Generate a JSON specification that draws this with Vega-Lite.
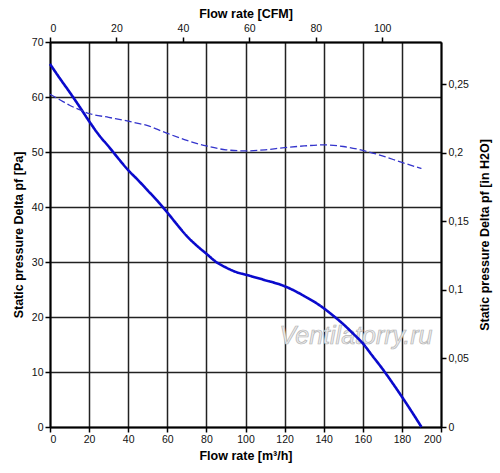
{
  "$schema": "https://vega.github.io/schema/vega-lite/v6.json",
  "width": 391,
  "height": 385,
  "autosize": {"type": "none"},
  "padding": {"left": 50, "top": 42, "right": 59, "bottom": 46},
  "datasets": {
    "curves": [
      {"flow": 0, "pa": 66.0, "series": "solid"},
      {"flow": 5, "pa": 63.4, "series": "solid"},
      {"flow": 10, "pa": 60.9, "series": "solid"},
      {"flow": 15, "pa": 58.3, "series": "solid"},
      {"flow": 20, "pa": 55.6, "series": "solid"},
      {"flow": 25, "pa": 53.1, "series": "solid"},
      {"flow": 30, "pa": 51.0, "series": "solid"},
      {"flow": 35, "pa": 48.8, "series": "solid"},
      {"flow": 40, "pa": 46.7, "series": "solid"},
      {"flow": 45, "pa": 44.9, "series": "solid"},
      {"flow": 50, "pa": 43.0, "series": "solid"},
      {"flow": 55, "pa": 41.1, "series": "solid"},
      {"flow": 60, "pa": 39.0, "series": "solid"},
      {"flow": 65, "pa": 36.8, "series": "solid"},
      {"flow": 70, "pa": 34.7, "series": "solid"},
      {"flow": 75, "pa": 33.0, "series": "solid"},
      {"flow": 80, "pa": 31.5, "series": "solid"},
      {"flow": 85, "pa": 30.0, "series": "solid"},
      {"flow": 90, "pa": 29.0, "series": "solid"},
      {"flow": 95, "pa": 28.2, "series": "solid"},
      {"flow": 100, "pa": 27.7, "series": "solid"},
      {"flow": 110, "pa": 26.7, "series": "solid"},
      {"flow": 120, "pa": 25.6, "series": "solid"},
      {"flow": 126, "pa": 24.6, "series": "solid"},
      {"flow": 130, "pa": 23.8, "series": "solid"},
      {"flow": 135, "pa": 22.8, "series": "solid"},
      {"flow": 140, "pa": 21.6, "series": "solid"},
      {"flow": 145, "pa": 20.2, "series": "solid"},
      {"flow": 150, "pa": 18.7, "series": "solid"},
      {"flow": 155, "pa": 17.0, "series": "solid"},
      {"flow": 160, "pa": 15.2, "series": "solid"},
      {"flow": 165, "pa": 12.9, "series": "solid"},
      {"flow": 170, "pa": 10.6, "series": "solid"},
      {"flow": 175, "pa": 8.1, "series": "solid"},
      {"flow": 180, "pa": 5.5, "series": "solid"},
      {"flow": 185, "pa": 2.8, "series": "solid"},
      {"flow": 190, "pa": 0.0, "series": "solid"},
      {"flow": 0, "pa": 60.5, "series": "dashed"},
      {"flow": 5, "pa": 59.5, "series": "dashed"},
      {"flow": 10, "pa": 58.5, "series": "dashed"},
      {"flow": 15, "pa": 57.7, "series": "dashed"},
      {"flow": 20, "pa": 57.0, "series": "dashed"},
      {"flow": 30, "pa": 56.3, "series": "dashed"},
      {"flow": 40, "pa": 55.6, "series": "dashed"},
      {"flow": 45, "pa": 55.2, "series": "dashed"},
      {"flow": 50, "pa": 54.8, "series": "dashed"},
      {"flow": 55, "pa": 54.1, "series": "dashed"},
      {"flow": 60, "pa": 53.4, "series": "dashed"},
      {"flow": 70, "pa": 52.1, "series": "dashed"},
      {"flow": 80, "pa": 51.1, "series": "dashed"},
      {"flow": 90, "pa": 50.4, "series": "dashed"},
      {"flow": 100, "pa": 50.2, "series": "dashed"},
      {"flow": 110, "pa": 50.4, "series": "dashed"},
      {"flow": 120, "pa": 50.8, "series": "dashed"},
      {"flow": 130, "pa": 51.1, "series": "dashed"},
      {"flow": 140, "pa": 51.3, "series": "dashed"},
      {"flow": 150, "pa": 51.0, "series": "dashed"},
      {"flow": 160, "pa": 50.3, "series": "dashed"},
      {"flow": 170, "pa": 49.3, "series": "dashed"},
      {"flow": 180, "pa": 48.1, "series": "dashed"},
      {"flow": 190, "pa": 47.0, "series": "dashed"}
    ],
    "cfm": [{"cfm": 0}, {"cfm": 117.7}],
    "inh2o": [{"inh2o": 0}, {"inh2o": 0.281}],
    "watermark": [{"flow": 156.5, "pa": 16.6, "label": "Ventilatorry.ru"}]
  },
  "layer": [
    {
      "data": {"name": "watermark"},
      "mark": {
        "type": "text",
        "font": "Liberation Sans",
        "fontSize": 25,
        "fontStyle": "italic",
        "fill": "#ececec",
        "stroke": "#b4b4b4",
        "strokeWidth": 0.7,
        "align": "center",
        "baseline": "middle"
      },
      "encoding": {
        "x": {"field": "flow", "type": "quantitative", "scale": {"domain": [0, 200], "nice": false}, "axis": null},
        "y": {"field": "pa", "type": "quantitative", "scale": {"domain": [0, 70], "nice": false}, "axis": null},
        "text": {"field": "label"}
      }
    },
    {
      "data": {"name": "curves"},
      "mark": {"type": "line", "interpolate": "monotone"},
      "encoding": {
        "x": {
          "field": "flow",
          "type": "quantitative",
          "scale": {"domain": [0, 200], "nice": false},
          "axis": {
            "orient": "bottom",
            "title": "Flow rate [m³/h]",
            "values": [0, 20, 40, 60, 80, 100, 120, 140, 160, 180, 200],
            "grid": true,
            "titlePadding": 5
          }
        },
        "y": {
          "field": "pa",
          "type": "quantitative",
          "scale": {"domain": [0, 70], "nice": false},
          "axis": {
            "orient": "left",
            "title": "Static pressure Delta pf [Pa]",
            "values": [0, 10, 20, 30, 40, 50, 60, 70],
            "grid": true,
            "labelPadding": 2,
            "titlePadding": 6
          }
        },
        "detail": {"field": "series"},
        "color": {
          "field": "series",
          "type": "nominal",
          "scale": {"domain": ["solid", "dashed"], "range": ["#0a0acc", "#3434cc"]},
          "legend": null
        },
        "strokeWidth": {
          "field": "series",
          "type": "nominal",
          "scale": {"domain": ["solid", "dashed"], "range": [2.6, 1.3]},
          "legend": null
        },
        "strokeDash": {
          "field": "series",
          "type": "nominal",
          "scale": {"domain": ["solid", "dashed"], "range": [[1, 0], [7, 3]]},
          "legend": null
        }
      }
    },
    {
      "data": {"name": "cfm"},
      "mark": {"type": "rule", "opacity": 0},
      "encoding": {
        "x": {
          "field": "cfm",
          "type": "quantitative",
          "scale": {"domain": [0, 117.7], "nice": false},
          "axis": {
            "orient": "top",
            "title": "Flow rate [CFM]",
            "values": [0, 20, 40, 60, 80, 100],
            "grid": false,
            "labelPadding": 4,
            "titlePadding": 3
          }
        }
      }
    },
    {
      "data": {"name": "inh2o"},
      "mark": {"type": "rule", "opacity": 0},
      "encoding": {
        "y": {
          "field": "inh2o",
          "type": "quantitative",
          "scale": {"domain": [0, 0.281], "nice": false},
          "axis": {
            "orient": "right",
            "title": "Static pressure Delta pf [in H2O]",
            "titleAngle": 270,
            "titleBaseline": "top",
            "values": [0, 0.05, 0.1, 0.15, 0.2, 0.25],
            "labelExpr": "replace(format(datum.value, '.2~f'), '.', ',')",
            "grid": false,
            "labelPadding": 2,
            "titlePadding": 10
          }
        }
      }
    }
  ],
  "resolve": {"scale": {"x": "independent", "y": "independent"}},
  "config": {
    "view": {"stroke": null},
    "axis": {
      "labelFont": "Liberation Sans",
      "labelFontSize": 10.5,
      "labelColor": "#111111",
      "titleFont": "Liberation Sans",
      "titleFontSize": 12.5,
      "titleFontWeight": "bold",
      "titleColor": "#000000",
      "domainColor": "#000000",
      "domainWidth": 2,
      "tickColor": "#000000",
      "tickWidth": 1.5,
      "tickSize": 5,
      "gridColor": "#222222",
      "gridWidth": 1.5,
      "gridOpacity": 1
    }
  }
}
